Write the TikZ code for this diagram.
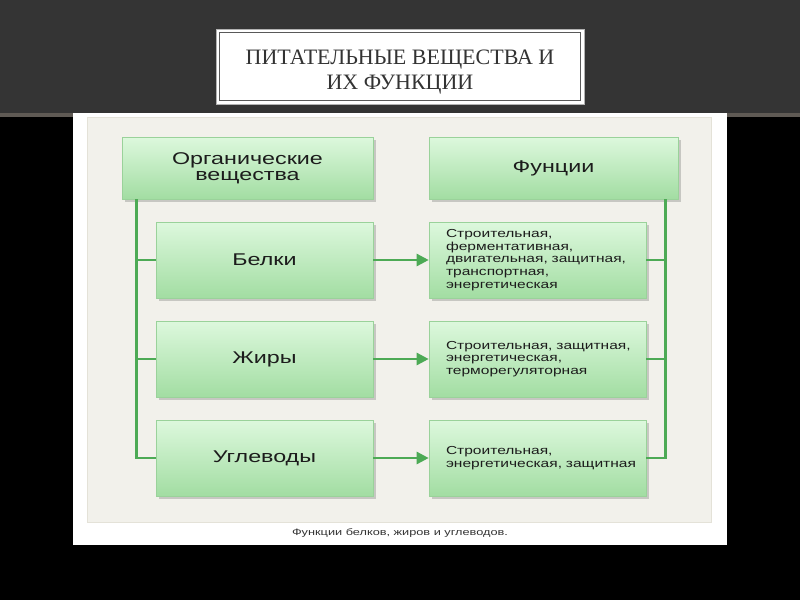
\documentclass[tikz,border=0pt]{standalone}
\usepackage{fontspec}
\setmainfont{Liberation Serif}
\newfontfamily\diafont[FakeStretch=1.37]{Liberation Sans}
\newfontfamily\funfont[FakeStretch=1.34]{Liberation Sans}
\newfontfamily\titlefont{Liberation Serif}
\usetikzlibrary{arrows.meta,shadows}

\definecolor{bandgray}{HTML}{343434}
\definecolor{bandline}{HTML}{5F5A54}
\definecolor{panelpale}{HTML}{F2F1EB}
\definecolor{panelline}{HTML}{E4E2D8}
\definecolor{boxtop}{HTML}{DDF8DD}
\definecolor{boxbot}{HTML}{A2DDA2}
\definecolor{boxline}{HTML}{9AD29A}
\definecolor{linkgreen}{HTML}{4DAA55}
\definecolor{boxtext}{HTML}{1C1C1C}

\tikzset{
  greenbox/.style={draw=boxline, line width=0.6, top color=boxtop, bottom color=boxbot,
    drop shadow={shadow xshift=2.5pt, shadow yshift=-2.5pt, opacity=0.3, fill=black!60},
    minimum width=217, minimum height=76, inner sep=0, text=boxtext,
    font=\diafont\fontsize{17}{16}\selectfont, align=center},
  headbox/.style={greenbox, minimum height=62},
  funbox/.style={greenbox, align=left, text width=183, inner xsep=17,
    font=\funfont\fontsize{11.6}{12.75}\selectfont},
  link/.style={draw=linkgreen, line width=2.5},
  arrow/.style={link, -{Triangle[length=12,width=12]}}
}

\begin{document}
\begin{tikzpicture}[x=1pt, y=-1pt]
  \useasboundingbox (0,0) rectangle (800,600);
  % slide background
  \fill[black] (0,0) rectangle (800,600);
  \fill[bandgray] (0,0) rectangle (800,113);
  \fill[bandline] (0,113) rectangle (800,117);

  % title
  \fill[white] (216,29) rectangle (584,104);
  \draw[black!30, line width=0.8] (216,29) rectangle (584,104);
  \draw[black!65, line width=0.8] (219.5,32.5) rectangle (580.5,100.5);
  \node[font=\titlefont\fontsize{22}{25}\selectfont, text=black!80, align=center]
    (title) at (400,72) {ПИТАТЕЛЬНЫЕ ВЕЩЕСТВА И\\ИХ ФУНКЦИИ};

  % picture frame
  \fill[white] (73,113) rectangle (727,545);
  \filldraw[fill=panelpale, draw=panelline, line width=1] (87,117) rectangle (711,522);

  % boxes
  \node[headbox, minimum width=251] (org) at (247.5,168) {Органические\\вещества};
  \node[headbox, minimum width=249] (fun) at (553.5,168) {Фунции};
  \node[greenbox] (bel) at (264.5,260) {Белки};
  \node[greenbox] (zhi) at (264.5,359) {Жиры};
  \node[greenbox] (ugl) at (264.5,458) {Углеводы};
  \node[funbox] (f1) at (537.5,260) {Строительная,\\ферментативная,\\двигательная,~защитная,\\транспортная,\\энергетическая};
  \node[funbox] (f2) at (537.5,359) {Строительная,~защитная,\\энергетическая,\\терморегуляторная};
  \node[funbox] (f3) at (537.5,458) {Строительная,\\энергетическая,~защитная};

  % connectors
  \foreach \b in {bel,zhi,ugl}
    \draw[link] ([xshift=15]org.south west) |- (\b.west);
  \foreach \f in {f1,f2,f3}
    \draw[link] ([xshift=-13]fun.south east) |- (\f.east);
  \draw[arrow] (bel) -- (f1);
  \draw[arrow] (zhi) -- (f2);
  \draw[arrow] (ugl) -- (f3);

  % caption
  \node[font=\diafont\fontsize{9.3}{11}\selectfont, text=black!80] (caption) at (400,533)
    {Функции белков, жиров и углеводов.};
\end{tikzpicture}
\end{document}
